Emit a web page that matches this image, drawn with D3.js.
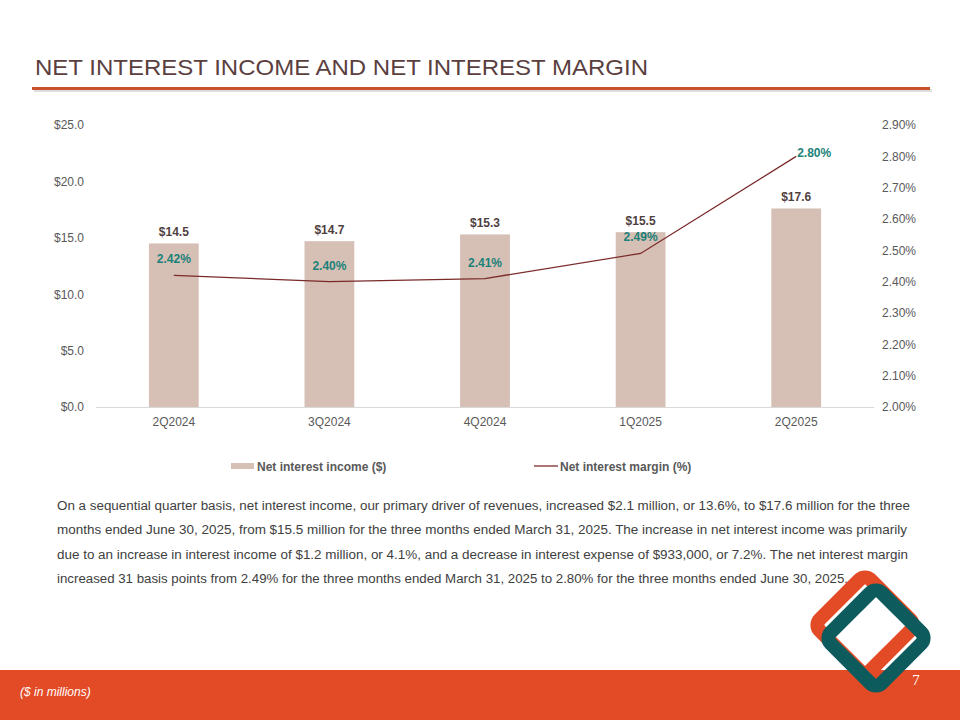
<!DOCTYPE html>
<html>
<head>
<meta charset="utf-8">
<script src="https://cdn.jsdelivr.net/npm/d3@7/dist/d3.min.js"></script>
<style>
  body { margin: 0; background: #fff; }
  svg { display: block; }
</style>
</head>
<body>
<div id="chart"></div>
<script>
var quarters = ["2Q2024", "3Q2024", "4Q2024", "1Q2025", "2Q2025"];
var incomeValues = [14.5, 14.7, 15.3, 15.5, 17.6];
var marginValues = [2.42, 2.40, 2.41, 2.49, 2.80];
var incomeTicks = [0, 5, 10, 15, 20, 25];
var marginTicks = [2.0, 2.1, 2.2, 2.3, 2.4, 2.5, 2.6, 2.7, 2.8, 2.9];
var legendLabels = ["Net interest income ($)", "Net interest margin (%)"];
var titleText = "NET INTEREST INCOME AND NET INTEREST MARGIN";
var noteLines = [
	"On a sequential quarter basis, net interest income, our primary driver of revenues, increased $2.1 million, or 13.6%, to $17.6 million for the three",
	"months ended June 30, 2025, from $15.5 million for the three months ended March 31, 2025. The increase in net interest income was primarily",
	"due to an increase in interest income of $1.2 million, or 4.1%, and a decrease in interest expense of $933,000, or 7.2%. The net interest margin",
	"increased 31 basis points from 2.49% for the three months ended March 31, 2025 to 2.80% for the three months ended June 30, 2025."
];

var width = 960, height = 720;
var barColor = "#d6bfb5";
var lineColor = "#7b2a2a";
var tealColor = "#1b8279";
var textColor = "#595959";
var orange = "#e24b25";
var teal = "#0d5b5c";
var font = "'Liberation Sans', Arial, sans-serif";
var narrow = "'Liberation Sans Narrow', 'Arial Narrow', 'Liberation Sans', Arial, sans-serif";

var svg = d3.select('#chart').append('svg')
	.attr('width', width).attr('height', height);

// title + rule
svg.append('text')
	.attr('x', 35).attr('y', 75)
	.attr('textLength', 613).attr('lengthAdjust', 'spacingAndGlyphs')
	.style('font-family', narrow).style('font-size', '22px')
	.style('fill', '#5b3f3f')
	.text(titleText);

svg.append('rect').attr('x', 34).attr('y', 89).attr('width', 898).attr('height', 3)
	.style('fill', '#d0d0d0').style('opacity', 0.7);
svg.append('rect').attr('x', 32).attr('y', 87).attr('width', 898).attr('height', 3)
	.style('fill', '#c9522b');

// scales
var x = d3.scaleBand().domain(quarters).range([96, 874]).padding(0);
var yL = d3.scaleLinear().domain([0, 25]).range([407, 125]);
var yR = d3.scaleLinear().domain([2.0, 2.9]).range([407, 125]);
var barW = x.bandwidth() * 0.32;

// left axis
var axL = svg.append('g').attr('transform', 'translate(96,0)')
	.call(d3.axisLeft(yL).tickValues(incomeTicks).tickSize(0).tickPadding(12)
		.tickFormat(function(d) { return '$' + d3.format('.1f')(d); }));
axL.select('.domain').remove();
axL.selectAll('text').style('font-family', font).style('font-size', '12px').style('fill', textColor);

// right axis
var axR = svg.append('g').attr('transform', 'translate(874,0)')
	.call(d3.axisRight(yR).tickValues(marginTicks).tickSize(0).tickPadding(8)
		.tickFormat(function(d) { return d3.format('.2f')(d) + '%'; }));
axR.select('.domain').remove();
axR.selectAll('text').style('font-family', font).style('font-size', '12px').style('fill', textColor);

// bars
svg.selectAll('.bar').data(quarters)
	.enter().append('rect')
	.attr('class', 'bar')
	.attr('x', function(d) { return x(d) + (x.bandwidth() - barW) / 2; })
	.attr('width', barW)
	.attr('y', function(d, i) { return yL(incomeValues[i]); })
	.attr('height', function(d, i) { return yL(0) - yL(incomeValues[i]); })
	.style('fill', barColor);

// bottom axis
var axB = svg.append('g').attr('transform', 'translate(0,407)')
	.call(d3.axisBottom(x).tickSize(0).tickPadding(10));
axB.select('.domain').attr('d', 'M96,0.5H874').style('stroke', '#d9d9d9');
axB.selectAll('text').style('font-family', font).style('font-size', '12px').style('fill', textColor);

// bar labels
svg.selectAll('.barlabel').data(quarters)
	.enter().append('text')
	.attr('x', function(d) { return x(d) + x.bandwidth() / 2; })
	.attr('y', function(d, i) { return yL(incomeValues[i]) - 7; })
	.attr('text-anchor', 'middle')
	.style('font-family', font).style('font-size', '12px').style('font-weight', 'bold')
	.style('fill', '#4f3f3f')
	.text(function(d, i) { return '$' + d3.format('.1f')(incomeValues[i]); });

// margin line
var line = d3.line()
	.x(function(d, i) { return x(quarters[i]) + x.bandwidth() / 2; })
	.y(function(d) { return yR(d); });

svg.append('path').datum(marginValues)
	.attr('d', line)
	.style('fill', 'none').style('stroke', lineColor).style('stroke-width', 1.3);

svg.selectAll('.linelabel').data(marginValues)
	.enter().append('text')
	.attr('x', function(d, i) {
		var cx = x(quarters[i]) + x.bandwidth() / 2;
		return i === marginValues.length - 1 ? cx + 1 : cx;
	})
	.attr('y', function(d, i) {
		return i === marginValues.length - 1 ? yR(d) + 1 : yR(d) - 12;
	})
	.attr('text-anchor', function(d, i) { return i === marginValues.length - 1 ? 'start' : 'middle'; })
	.style('font-family', font).style('font-size', '12px').style('font-weight', 'bold')
	.style('fill', tealColor)
	.text(function(d) { return d3.format('.2f')(d) + '%'; });

// legend
var leg = svg.append('g').attr('transform', 'translate(0,466)');
leg.append('rect').attr('x', 231).attr('y', -3).attr('width', 23).attr('height', 6).style('fill', barColor);
leg.append('text').attr('x', 257).attr('y', 4.5)
	.style('font-family', font).style('font-size', '12px').style('font-weight', 'bold').style('fill', textColor)
	.text(legendLabels[0]);
leg.append('line').attr('x1', 534).attr('x2', 558).attr('y1', 0).attr('y2', 0)
	.style('stroke', lineColor).style('stroke-width', 1.3);
leg.append('text').attr('x', 560).attr('y', 4.5)
	.style('font-family', font).style('font-size', '12px').style('font-weight', 'bold').style('fill', textColor)
	.text(legendLabels[1]);

// note text
var noteWidths = [853, 850, 851, 791];
svg.selectAll('.note').data(noteLines)
	.enter().append('text')
	.attr('x', 57)
	.attr('y', function(d, i) { return 510 + i * 24.3; })
	.attr('textLength', function(d, i) { return noteWidths[i]; })
	.attr('lengthAdjust', 'spacingAndGlyphs')
	.style('font-family', narrow).style('font-size', '12.5px').style('fill', '#404040')
	.text(function(d) { return d; });

// footer band
svg.append('rect').attr('x', 0).attr('y', 670).attr('width', width).attr('height', 50).style('fill', orange);
svg.append('text').attr('x', 20).attr('y', 696)
	.style('font-family', font).style('font-size', '12px').style('font-style', 'italic').style('fill', '#fff')
	.text('($ in millions)');
svg.append('text').attr('x', 916).attr('y', 685).attr('text-anchor', 'middle')
	.style('font-family', "'Liberation Serif', serif").style('font-size', '15px').style('fill', '#fff')
	.text('7');

// logo: two interlocked rounded diamonds
var logo = svg.append('g');
var logoSide = 72;
function diamond(cx, cy, color, clipId) {
	var r = logo.append('rect')
		.attr('x', -logoSide / 2).attr('y', -logoSide / 2)
		.attr('width', logoSide).attr('height', logoSide)
		.attr('rx', 8).attr('ry', 8)
		.attr('transform', 'translate(' + cx + ',' + cy + ') rotate(45)')
		.style('fill', 'none').style('stroke', color).style('stroke-width', 14);
	if (clipId) r.attr('clip-path', 'url(#' + clipId + ')');
	return r;
}
diamond(865, 625, orange);
diamond(876, 638, teal);
// orange passes over teal on the upper-right side
svg.append('clipPath').attr('id', 'logoclip')
	.append('path').attr('d', 'M870,560L960,560L960,650L925,650Z');
diamond(865, 625, orange, 'logoclip');
</script>
</body>
</html>
